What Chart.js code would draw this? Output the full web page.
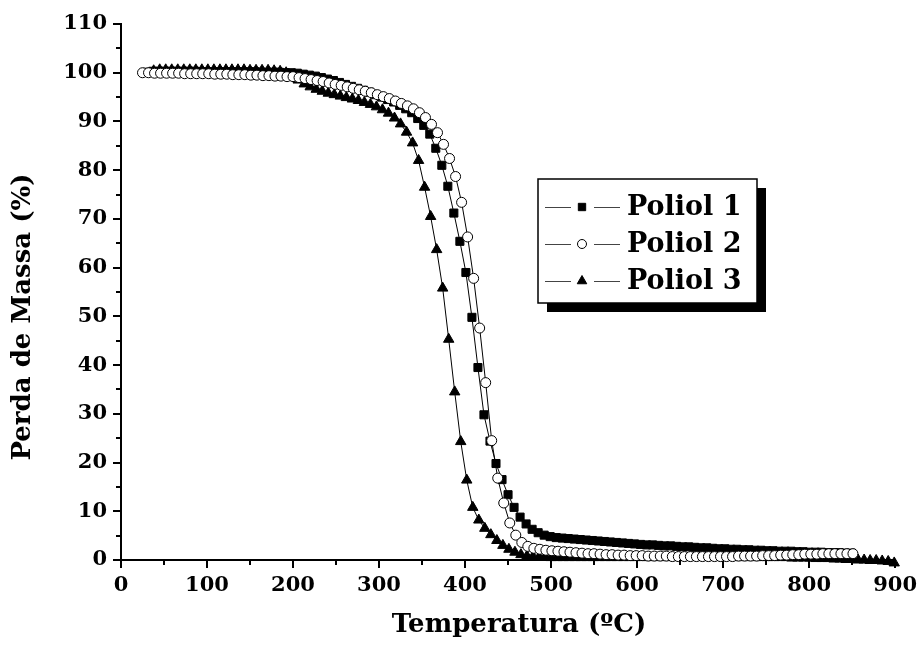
<!DOCTYPE html>
<html>
<head>
<meta charset="utf-8">
<script src="https://cdn.jsdelivr.net/npm/chart.js@4.4.0/dist/chart.umd.min.js"></script>
<style>
  html, body { margin: 0; padding: 0; background: #fff; }
</style>
</head>
<body>
<canvas id="tgaChart" width="922" height="651"></canvas>
<script>
// TGA curves: mass (%) vs temperature (ºC) for the three polyols
const seriesNames = ['Poliol 1', 'Poliol 2', 'Poliol 3'];
const xTitle = 'Temperatura (ºC)';
const yTitle = 'Perda de Massa (%)';

const tempP1 = [
  30, 37, 44, 51, 58, 65, 72, 79, 86, 93,
  100, 107, 114, 121, 128, 135, 142, 149, 156, 163,
  170, 177, 184, 191, 198, 205, 212, 219, 226, 233,
  240, 247, 254, 261, 268, 275, 282, 289, 296, 303,
  310, 317, 324, 331, 338, 345, 352, 359, 366, 373,
  380, 387, 394, 401, 408, 415, 422, 429, 436, 443,
  450, 457, 464, 471, 478, 485, 492, 499, 506, 513,
  520, 527, 534, 541, 548, 555, 562, 569, 576, 583,
  590, 597, 604, 611, 618, 625, 632, 639, 646, 653,
  660, 667, 674, 681, 688, 695, 702, 709, 716, 723,
  730, 737, 744, 751, 758, 765, 772, 779, 786, 793,
  800, 807, 814, 821, 828, 835, 842, 849
];
const massP1 = [
  100.1, 100.3, 100.3, 100.3, 100.3, 100.3, 100.3, 100.3, 100.3, 100.2,
  100.2, 100.2, 100.2, 100.2, 100.2, 100.2, 100.2, 100.2, 100.2, 100.1,
  100.1, 100.1, 100.1, 100.0, 100.0, 99.9, 99.7, 99.5, 99.3, 99.0,
  98.7, 98.4, 98.0, 97.6, 97.2, 96.8, 96.4, 96.0, 95.5, 95.0,
  94.5, 94.0, 93.3, 92.6, 91.8, 90.6, 89.2, 87.4, 84.5, 81.0,
  76.7, 71.2, 65.4, 59.0, 49.8, 39.5, 29.8, 24.4, 19.8, 16.5,
  13.4, 10.8, 8.8, 7.4, 6.3, 5.6, 5.1, 4.8, 4.6, 4.5,
  4.4, 4.3, 4.2, 4.1, 4.0, 3.9, 3.8, 3.7, 3.6, 3.5,
  3.4, 3.3, 3.2, 3.1, 3.1, 3.0, 2.9, 2.9, 2.8, 2.7,
  2.7, 2.6, 2.5, 2.5, 2.4, 2.3, 2.3, 2.2, 2.2, 2.1,
  2.1, 2.0, 2.0, 1.9, 1.9, 1.8, 1.8, 1.8, 1.7, 1.7,
  1.6, 1.6, 1.6, 1.5, 1.5, 1.5, 1.4, 1.4
];

const tempP2 = [
  25, 32, 39, 46, 53, 60, 67, 74, 81, 88,
  95, 102, 109, 116, 123, 130, 137, 144, 151, 158,
  165, 172, 179, 186, 193, 200, 207, 214, 221, 228,
  235, 242, 249, 256, 263, 270, 277, 284, 291, 298,
  305, 312, 319, 326, 333, 340, 347, 354, 361, 368,
  375, 382, 389, 396, 403, 410, 417, 424, 431, 438,
  445, 452, 459, 466, 473, 480, 487, 494, 501, 508,
  515, 522, 529, 536, 543, 550, 557, 564, 571, 578,
  585, 592, 599, 606, 613, 620, 627, 634, 641, 648,
  655, 662, 669, 676, 683, 690, 697, 704, 711, 718,
  725, 732, 739, 746, 753, 760, 767, 774, 781, 788,
  795, 802, 809, 816, 823, 830, 837, 844, 851
];
const massP2 = [
  100.0, 100.0, 99.9, 99.9, 99.9, 99.9, 99.9, 99.8, 99.8, 99.8,
  99.8, 99.8, 99.7, 99.7, 99.7, 99.6, 99.6, 99.6, 99.5, 99.5,
  99.4, 99.4, 99.3, 99.3, 99.2, 99.2, 99.0, 98.8, 98.6, 98.4,
  98.2, 97.9, 97.6, 97.4, 97.1, 96.8, 96.5, 96.2, 95.9, 95.5,
  95.1, 94.7, 94.2, 93.7, 93.2, 92.6, 91.8, 90.8, 89.4, 87.7,
  85.3, 82.4, 78.7, 73.4, 66.3, 57.8, 47.6, 36.4, 24.5, 16.8,
  11.7, 7.6, 5.1, 3.6, 2.8, 2.4, 2.2, 2.0, 1.9, 1.8,
  1.7, 1.6, 1.5, 1.4, 1.3, 1.3, 1.2, 1.1, 1.1, 1.0,
  1.0, 0.9, 0.9, 0.9, 0.8, 0.8, 0.8, 0.8, 0.7, 0.7,
  0.7, 0.7, 0.7, 0.7, 0.7, 0.7, 0.7, 0.7, 0.7, 0.8,
  0.8, 0.8, 0.8, 0.9, 0.9, 0.9, 1.0, 1.0, 1.1, 1.1,
  1.2, 1.2, 1.2, 1.3, 1.3, 1.3, 1.3, 1.3, 1.3
];

const tempP3 = [
  38, 45, 52, 59, 66, 73, 80, 87, 94, 101,
  108, 115, 122, 129, 136, 143, 150, 157, 164, 171,
  178, 185, 192, 199, 206, 213, 220, 227, 234, 241,
  248, 255, 262, 269, 276, 283, 290, 297, 304, 311,
  318, 325, 332, 339, 346, 353, 360, 367, 374, 381,
  388, 395, 402, 409, 416, 423, 430, 437, 444, 451,
  458, 465, 472, 479, 486, 493, 500, 507, 514, 521,
  528, 535, 542, 549, 556, 563, 570, 577, 584, 591,
  598, 605, 612, 619, 626, 633, 640, 647, 654, 661,
  668, 675, 682, 689, 696, 703, 710, 717, 724, 731,
  738, 745, 752, 759, 766, 773, 780, 787, 794, 801,
  808, 815, 822, 829, 836, 843, 850, 857, 864, 871,
  878, 885, 892, 899
];
const massP3 = [
  100.4, 100.6, 100.6, 100.6, 100.6, 100.6, 100.6, 100.6, 100.6, 100.6,
  100.6, 100.6, 100.6, 100.6, 100.6, 100.6, 100.5, 100.5, 100.5, 100.5,
  100.4, 100.3, 100.0, 99.3, 98.5, 97.7, 97.1, 96.6, 96.2, 95.8,
  95.5, 95.2, 94.9, 94.6, 94.3, 93.9, 93.5, 93.0, 92.4, 91.7,
  90.7, 89.5, 87.8, 85.6, 82.0, 76.5, 70.5, 63.7, 55.8, 45.3,
  34.5, 24.3, 16.4, 10.8, 8.2, 6.5, 5.2, 4.0, 3.0, 2.2,
  1.6, 1.1, 0.8, 0.7, 0.6, 0.6, 0.5, 0.5, 0.5, 0.5,
  0.5, 0.5, 0.5, 0.5, 0.5, 0.5, 0.5, 0.5, 0.5, 0.5,
  0.5, 0.5, 0.5, 0.5, 0.5, 0.5, 0.5, 0.5, 0.5, 0.5,
  0.5, 0.5, 0.5, 0.5, 0.5, 0.5, 0.5, 0.5, 0.5, 0.5,
  0.5, 0.5, 0.5, 0.5, 0.5, 0.5, 0.4, 0.4, 0.4, 0.4,
  0.3, 0.3, 0.3, 0.2, 0.2, 0.1, 0.1, 0.0, 0.0, -0.1,
  -0.1, -0.2, -0.3, -0.6
];

const xMinorTicks = [50, 150, 250, 350, 450, 550, 650, 750, 850];
const yMinorTicks = [5, 15, 25, 35, 45, 55, 65, 75, 85, 95, 105];

const FONT = 'DejaVu Serif';
Chart.defaults.font.family = FONT;
Chart.defaults.font.weight = 'bold';
Chart.defaults.color = '#000';

function points(t, m) {
  return t.map((x, i) => ({ x: x, y: m[i] }));
}

const markers = [
  { style: 'rect', radius: 5.7, fill: '#000' },
  { style: 'circle', radius: 5, fill: '#fff' },
  { style: 'triangle', radius: 6, fill: '#000' }
];

// minor ticks, axis titles and the boxed legend with its drop shadow
const decorations = {
  id: 'decorations',
  afterDraw(chart) {
    const ctx = chart.ctx;
    const xs = chart.scales.x, ys = chart.scales.y;
    const area = chart.chartArea;
    ctx.save();
    ctx.strokeStyle = '#000';
    ctx.lineWidth = 2;
    ctx.beginPath();
    xMinorTicks.forEach(v => {
      const px = Math.round(xs.getPixelForValue(v));
      ctx.moveTo(px, area.bottom);
      ctx.lineTo(px, area.bottom + 5);
    });
    yMinorTicks.forEach(v => {
      const py = Math.round(ys.getPixelForValue(v));
      ctx.moveTo(area.left - 5, py);
      ctx.lineTo(area.left, py);
    });
    ctx.stroke();

    ctx.fillStyle = '#000';
    ctx.font = 'bold 26px "' + FONT + '"';
    ctx.textAlign = 'center';
    ctx.textBaseline = 'middle';
    ctx.fillText(xTitle, 519, 625);
    ctx.save();
    ctx.translate(23, 317);
    ctx.rotate(-Math.PI / 2);
    ctx.fillText(yTitle, 0, 0);
    ctx.restore();

    // legend
    const bx = 538, by = 179, bw = 219, bh = 124, sh = 9;
    ctx.fillStyle = '#000';
    ctx.fillRect(bx + sh, by + sh, bw, bh);
    ctx.fillStyle = '#fff';
    ctx.fillRect(bx, by, bw, bh);
    ctx.lineWidth = 1.5;
    ctx.strokeRect(bx, by, bw, bh);

    const rows = [207, 244, 281];
    seriesNames.forEach((name, i) => {
      const cy = rows[i];
      ctx.strokeStyle = '#444';
      ctx.lineWidth = 1;
      ctx.beginPath();
      ctx.moveTo(545, cy + 0.5);
      ctx.lineTo(571, cy + 0.5);
      ctx.moveTo(594, cy + 0.5);
      ctx.lineTo(620, cy + 0.5);
      ctx.stroke();
      ctx.strokeStyle = '#000';
      ctx.fillStyle = markers[i].fill;
      Chart.helpers.drawPoint(ctx, {
        pointStyle: markers[i].style,
        radius: markers[i].radius - 0.5,
        borderWidth: 1,
        rotation: 0
      }, 582, cy);
      ctx.fillStyle = '#000';
      ctx.font = 'bold 27px "' + FONT + '"';
      ctx.textAlign = 'left';
      ctx.textBaseline = 'middle';
      ctx.fillText(name, 627, cy + 1);
    });
    ctx.restore();
  }
};

function dataset(i, t, m, order) {
  return {
    label: seriesNames[i],
    data: points(t, m),
    order: order,
    clip: false,
    borderColor: '#000',
    borderWidth: 1,
    tension: 0,
    pointStyle: markers[i].style,
    pointRadius: markers[i].radius,
    pointBackgroundColor: markers[i].fill,
    pointBorderColor: '#000',
    pointBorderWidth: 1
  };
}

new Chart(document.getElementById('tgaChart'), {
  type: 'line',
  data: {
    datasets: [
      dataset(0, tempP1, massP1, 3),
      dataset(1, tempP2, massP2, 1),
      dataset(2, tempP3, massP3, 2)
    ]
  },
  options: {
    responsive: false,
    animation: false,
    events: [],
    layout: { padding: { top: 24, right: 25, left: 0, bottom: 0 } },
    plugins: { legend: { display: false }, tooltip: { enabled: false } },
    scales: {
      x: {
        type: 'linear',
        min: 0,
        max: 900,
        afterFit(s) { s.height = 91; },
        ticks: { stepSize: 100, autoSkip: false, maxRotation: 0, padding: 5, font: { size: 21 } },
        grid: { drawOnChartArea: false, tickLength: 8, tickWidth: 2, lineWidth: 2, color: '#000', tickColor: '#000' },
        border: { color: '#000', width: 2 }
      },
      y: {
        min: 0,
        max: 110,
        afterFit(s) { s.width = 121; },
        ticks: { stepSize: 10, autoSkip: false, padding: 6, font: { size: 21 } },
        grid: { drawOnChartArea: false, tickLength: 8, tickWidth: 2, lineWidth: 2, color: '#000', tickColor: '#000' },
        border: { color: '#000', width: 2 }
      }
    }
  },
  plugins: [decorations]
});
</script>
</body>
</html>
